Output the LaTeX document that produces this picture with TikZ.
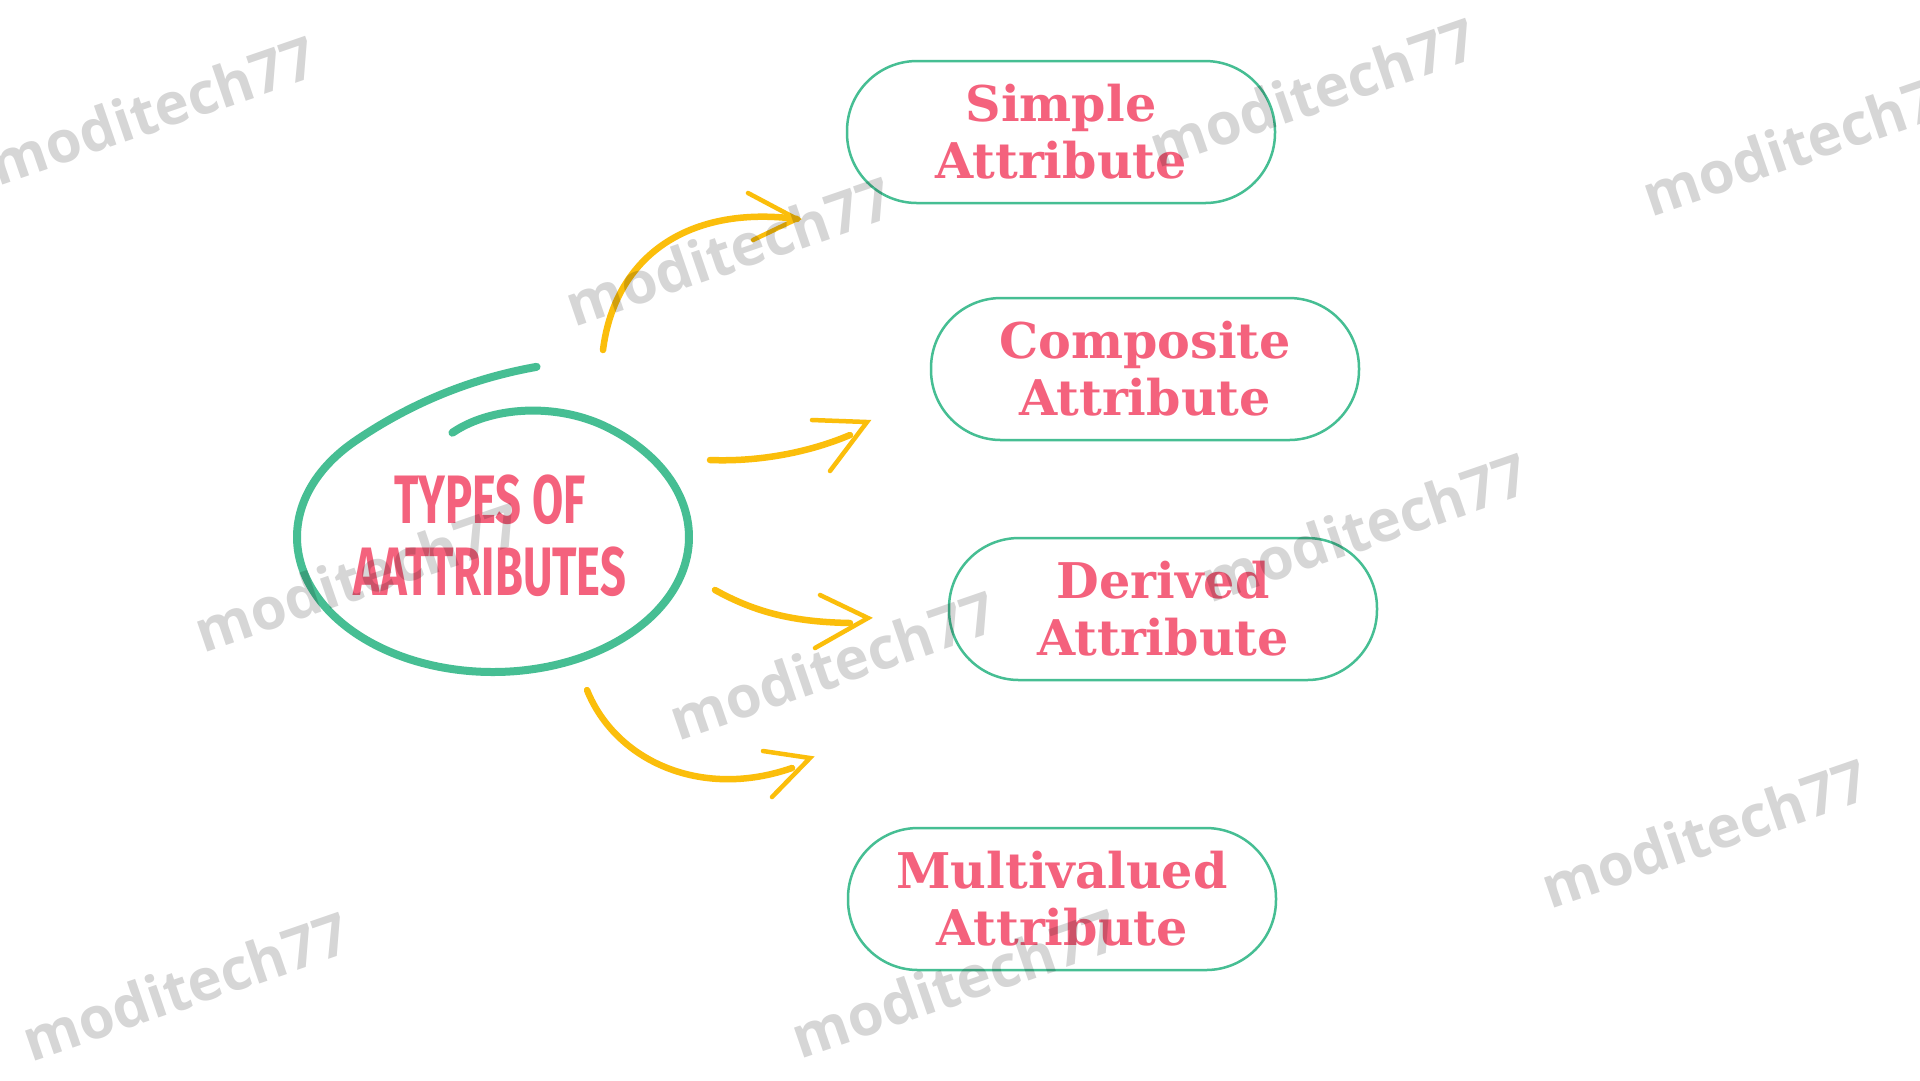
\documentclass[tikz,border=0pt]{standalone}
\usepackage{fontspec}
\usepackage{graphicx}
\newfontfamily\brushfont{Fira Sans}
\newfontfamily\swankyfont{DejaVu Serif}
\newfontfamily\wmfont{Open Sans}
\definecolor{attrpink}{HTML}{F4627D}
\definecolor{attrgreen}{HTML}{46BE93}
\definecolor{arrowyellow}{HTML}{FBBE0B}

\begin{document}
\begin{tikzpicture}[x=0.1mm,y=-0.1mm,
  attr/.style={draw=attrgreen,line width=0.25mm,rounded corners=7mm,minimum width=42.8mm,minimum height=14.2mm,align=center,text=attrpink,font=\swankyfont\bfseries\fontsize{14pt}{16.2pt}\selectfont},
  brush/.style={draw=arrowyellow,line width=0.65mm,line cap=round},
  barb/.style={draw=arrowyellow,line width=0.45mm,line cap=round},
  wmark/.style={rotate=19,text=black,text opacity=0.16,font=\wmfont\bfseries\fontsize{16.5pt}{16.5pt}\selectfont}]
  \fill[white] (0,0) rectangle (1920,1080);
  \useasboundingbox (0,0) rectangle (1920,1080);
  \clip (0,0) rectangle (1920,1080);

  \draw[attrgreen,line width=0.8mm,line cap=round] plot[domain=80:465,samples=160,smooth]
    ({493+196*(1+0.28*pow(max(0,(135-\x)/55),2)-0.2*pow(max(0,(\x-415)/50),2))*cos(\x)},
     {537-135*(1+0.28*pow(max(0,(135-\x)/55),2)-0.2*pow(max(0,(\x-415)/50),2))*sin(\x)});
  \node[text=attrpink,font=\brushfont\bfseries\fontsize{19.5pt}{20.5pt}\selectfont] (types) at (490,545)
    {\scalebox{0.66}[1]{\begin{tabular}{@{}c@{}}TYPES OF\\AATTRIBUTES\end{tabular}}};

  \node[attr] (simple) at (1061,132) {Simple\\Attribute};
  \node[attr] (composite) at (1145,369) {Composite\\Attribute};
  \node[attr] (derived) at (1163,609) {Derived\\Attribute};
  \node[attr] (multi) at (1062,899) {Multivalued\\Attribute};

  \coordinate (s1) at (603,350); \coordinate (t1) at (797,219);
  \coordinate (s2) at (710,460); \coordinate (t2) at (867,422);
  \coordinate (s3) at (715,590); \coordinate (t3) at (868,618);
  \coordinate (s4) at (587,690); \coordinate (t4) at (810,758);
  \draw[brush] (s1) .. controls (615,255) and (690,205) .. (t1);
  \draw[barb] (748,193) -- (t1) -- (753,240);
  \draw[brush] (s2) .. controls (760,462) and (810,452) .. (850,435);
  \draw[barb] (812,420) -- (t2) -- (830,471);
  \draw[brush] (s3) .. controls (760,615) and (800,622) .. (850,623);
  \draw[barb] (820,595) -- (t3) -- (815,648);
  \draw[brush] (s4) .. controls (615,760) and (700,800) .. (792,768);
  \draw[barb] (763,751) -- (t4) -- (772,797);

  \node[wmark] (wm1) at (153,110) {moditech77};
  \node[wmark] (wm2) at (729,251) {moditech77};
  \node[wmark] (wm3) at (1313,92) {moditech77};
  \node[wmark] (wm4) at (1806,141) {moditech77};
  \node[wmark] (wm5) at (358,577) {moditech77};
  \node[wmark] (wm6) at (833,665) {moditech77};
  \node[wmark] (wm7) at (1365,527) {moditech77};
  \node[wmark] (wm8) at (1705,833) {moditech77};
  \node[wmark] (wm9) at (186,986) {moditech77};
  \node[wmark] (wm10) at (955,983) {moditech77};
\end{tikzpicture}
\end{document}
